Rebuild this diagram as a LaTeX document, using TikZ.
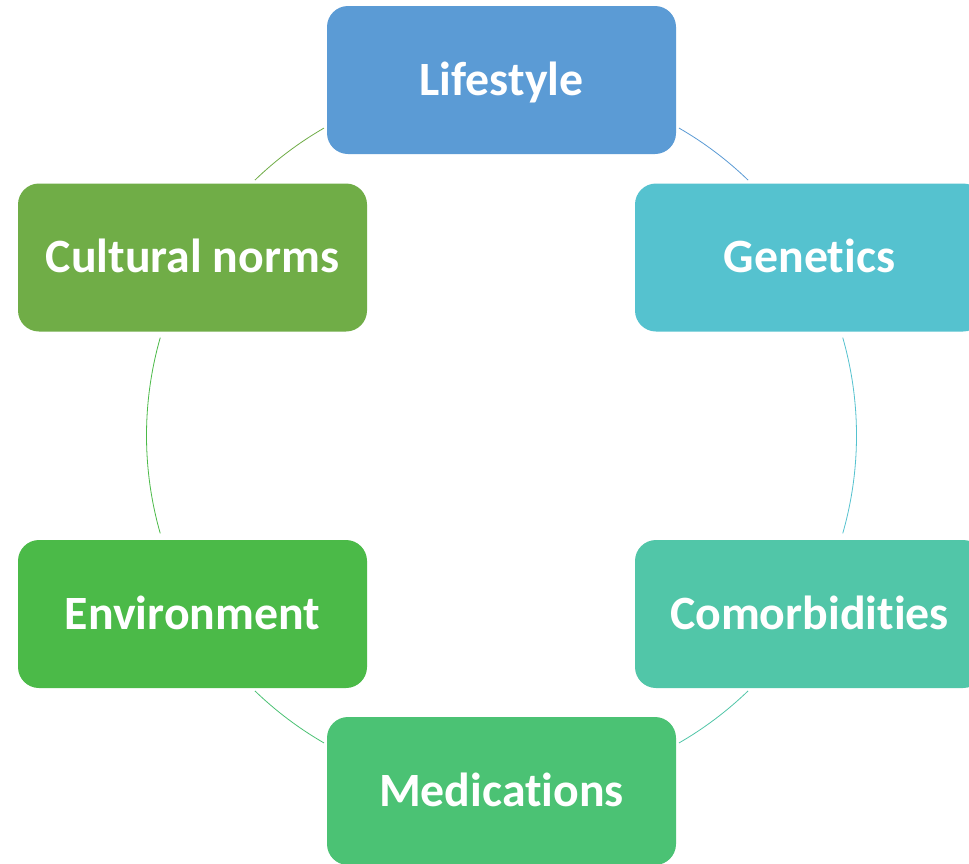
\documentclass[tikz,border=0pt]{standalone}
\usepackage{fontspec}
\setmainfont{Carlito}[RawFeature={-liga;-dlig;-clig}]
\definecolor{cLife}{HTML}{5B9BD5}
\definecolor{cGene}{HTML}{55C2CF}
\definecolor{cComo}{HTML}{51C6A8}
\definecolor{cMedi}{HTML}{4BC274}
\definecolor{cEnvi}{HTML}{4BBA48}
\definecolor{cCult}{HTML}{70AD47}
\begin{document}
\begin{tikzpicture}[x=1pt,y=-1pt,
  box/.style={rounded corners=21pt, minimum width=349pt, minimum height=148pt,
    inner sep=0pt, text=white, font=\fontsize{47.8}{50}\selectfont\bfseries,
    text height=30.8pt, text depth=0pt},
  link/.style={line width=0.8pt}]
\useasboundingbox (0,0) rectangle (969,863);
\fill[white] (0,0) rectangle (969,863);
\clip (0,0) rectangle (969,863);
\coordinate (c) at (501.5,435.5);
\node[box, fill=cLife] (life) at (501.5,80) {Lifestyle};
\node[box, fill=cGene] (gene) at (809.5,257.5) {Genetics};
\node[box, fill=cComo] (como) at (809.5,614) {Comorbidities};
\node[box, fill=cMedi] (medi) at (501.5,791) {Medications};
\node[box, fill=cEnvi] (envi) at (192.5,614) {Environment};
\node[box, fill=cCult] (cult) at (192.5,257.5) {Cultural norms};
\begin{scope}[x=1pt,y=1pt]
\draw[link, cLife] (c) ++(60:355) arc (60:46:355);
\draw[link, cGene] (c) ++(16:355) arc (16:-16:355);
\draw[link, cComo] (c) ++(-46:355) arc (-46:-60:355);
\draw[link, cMedi] (c) ++(-120:355) arc (-120:-134:355);
\draw[link, cEnvi] (c) ++(-164:355) arc (-164:-196:355);
\draw[link, cCult] (c) ++(134:355) arc (134:120:355);
\end{scope}
\end{tikzpicture}
\end{document}
